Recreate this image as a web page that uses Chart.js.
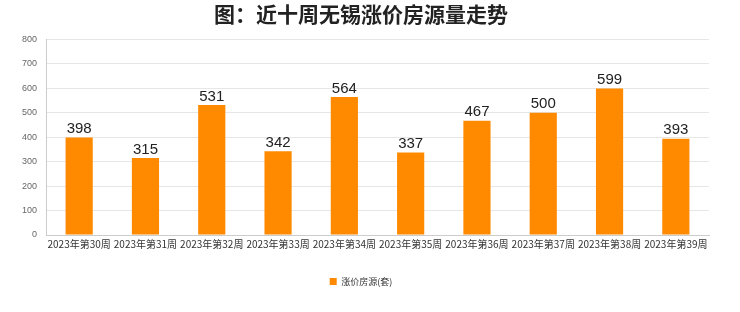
<!DOCTYPE html>
<html>
<head>
<meta charset="utf-8">
<script src="https://cdn.jsdelivr.net/npm/chart.js@4"></script>
<style>
  html, body { margin: 0; padding: 0; background: #fff; }
  #wrap { width: 740px; height: 312px; position: relative; }
</style>
</head>
<body>
<div id="wrap"><canvas id="chart"></canvas></div>
<script>
const weeks = ['2023年第30周','2023年第31周','2023年第32周','2023年第33周','2023年第34周',
               '2023年第35周','2023年第36周','2023年第37周','2023年第38周','2023年第39周'];
const houses = [398, 315, 531, 342, 564, 337, 467, 500, 599, 393];
const seriesName = '涨价房源(套)';
const chartTitle = '图：近十周无锡涨价房源量走势';

// value on top of each bar
const barLabels = {
  id: 'barLabels',
  afterDatasetsDraw(chart) {
    const ctx = chart.ctx;
    const meta = chart.getDatasetMeta(0);
    ctx.save();
    ctx.font = '15px "Liberation Sans", Arial, sans-serif';
    ctx.fillStyle = '#222';
    ctx.textAlign = 'center';
    ctx.textBaseline = 'bottom';
    meta.data.forEach((bar, i) => {
      ctx.fillText(houses[i], bar.x, bar.y - 1);
    });
    ctx.restore();
  }
};

new Chart(document.getElementById('chart'), {
  type: 'bar',
  data: {
    labels: weeks,
    datasets: [{
      label: seriesName,
      data: houses,
      backgroundColor: '#ff8a00',
      categoryPercentage: 1,
      barPercentage: 0.41
    }]
  },
  options: {
    responsive: true,
    maintainAspectRatio: false,
    animation: false,
    layout: { padding: { left: 13, right: 31, top: 0, bottom: 16 } },
    plugins: {
      title: {
        display: true,
        text: chartTitle,
        color: '#222',
        font: { family: '"Noto Sans CJK SC"', size: 21, weight: 'bold' },
        padding: { top: 1, bottom: 13 }
      },
      legend: {
        position: 'bottom',
        labels: {
          boxWidth: 7, boxHeight: 7,
          color: '#333',
          font: { family: '"Noto Sans CJK SC"', size: 9 },
          padding: 24
        }
      },
      tooltip: { enabled: false }
    },
    scales: {
      x: {
        grid: { display: false, drawTicks: false },
        border: { color: '#ccc' },
        ticks: { color: '#333', font: { family: '"Noto Sans CJK SC"', size: 10 }, maxRotation: 0, autoSkip: false, padding: 3 }
      },
      y: {
        min: 0, max: 800,
        ticks: { stepSize: 100, color: '#666', font: { family: '"Liberation Sans"', size: 9 }, padding: 9 },
        grid: { color: '#e6e6e6', drawTicks: false },
        border: { color: '#ccc' }
      }
    }
  },
  plugins: [barLabels]
});
</script>
</body>
</html>
